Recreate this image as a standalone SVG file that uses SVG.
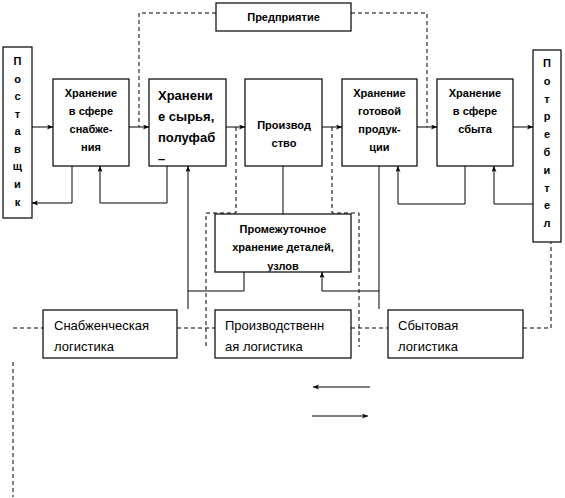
<svg xmlns="http://www.w3.org/2000/svg" width="565" height="498" viewBox="0 0 565 498">
<style>
.box{fill:#fff;stroke:#000;stroke-width:1.2}
.t{font-family:"Liberation Sans",Arial,sans-serif;font-size:11px;font-weight:bold;fill:#000;text-anchor:middle}
.tl{font-family:"Liberation Sans",Arial,sans-serif;font-size:13px;font-weight:bold;fill:#000}
.tb{font-family:"Liberation Sans",Arial,sans-serif;font-size:13px;fill:#000}
.c{fill:none;stroke:#000;stroke-width:1}
.d{fill:none;stroke:#000;stroke-width:1;stroke-dasharray:4,3}
</style>
<defs>
<marker id="ah" markerUnits="userSpaceOnUse" markerWidth="7" markerHeight="6" refX="6" refY="2.5" orient="auto">
<path d="M0,0 L6,2.5 L0,5 L1.5,2.5 z" fill="#000"/>
</marker>
<clipPath id="clipP"><rect x="215" y="214" width="136" height="57.5"/></clipPath>
</defs>

<g id="connectors">
<path class="d" d="M216,13 H139 V127"/>
<path class="d" d="M351,13 H427 V127"/>
<path class="d" d="M236,127 V213 H206 V348"/>
<path class="d" d="M332,127 V213 H359 V347"/>
<path class="d" d="M13,328 H43"/>
<path class="d" d="M177,328 H215"/>
<path class="d" d="M351,328 H388"/>
<path class="d" d="M523,328 H551 V222"/>
<path class="d" d="M13,362 V497"/>
<path class="c" d="M32,127 H53" marker-end="url(#ah)"/>
<path class="c" d="M129,127 H149" marker-end="url(#ah)"/>
<path class="c" d="M226,127 H245" marker-end="url(#ah)"/>
<path class="c" d="M322,127 H342" marker-end="url(#ah)"/>
<path class="c" d="M417,127 H437" marker-end="url(#ah)"/>
<path class="c" d="M513,127 H533" marker-end="url(#ah)"/>
<path class="c" d="M72,166 V203 H32" marker-end="url(#ah)"/>
<path class="c" d="M167,166 V203 H100 V166" marker-end="url(#ah)"/>
<path class="c" d="M188,309 V166" marker-end="url(#ah)"/>
<path class="c" d="M244,272 V291 H188"/>
<path class="c" d="M283,166 V214"/>
<path class="c" d="M379,166 V309"/>
<path class="c" d="M379,291 H322 V272" marker-end="url(#ah)"/>
<path class="c" d="M465,166 V204 H398 V166" marker-end="url(#ah)"/>
<path class="c" d="M533,204 H494 V166" marker-end="url(#ah)"/>
<path class="c" d="M370,387 H313" marker-end="url(#ah)"/>
<path class="c" d="M312,416 H368" marker-end="url(#ah)"/>
</g>

<g id="enterprise">
<rect class="box" x="216" y="3" width="135" height="28"/>
<text class="t" x="283.5" y="21">Предприятие</text>
</g>

<g id="supplier">
<rect class="box" x="3" y="47" width="29" height="171"/>
<text class="t" x="17.5" y="65">П</text>
<text class="t" x="17.5" y="83">о</text>
<text class="t" x="17.5" y="100">с</text>
<text class="t" x="17.5" y="118">т</text>
<text class="t" x="17.5" y="135">а</text>
<text class="t" x="17.5" y="153">в</text>
<text class="t" x="17.5" y="170">щ</text>
<text class="t" x="17.5" y="188">и</text>
<text class="t" x="17.5" y="206">к</text>
</g>

<g id="store-supply">
<rect class="box" x="53" y="79" width="76" height="87"/>
<text class="t" x="91" y="97">Хранение</text>
<text class="t" x="91" y="115">в сфере</text>
<text class="t" x="91" y="133">снабже-</text>
<text class="t" x="91" y="151">ния</text>
</g>

<g id="store-raw">
<rect class="box" x="149" y="79" width="77" height="87"/>
<text class="tl" x="158" y="100">Хранени</text>
<text class="tl" x="158" y="121">е сырья,</text>
<text class="tl" x="158" y="142">полуфаб</text>
<text class="tl" x="158" y="163">–</text>
</g>

<g id="production">
<rect class="box" x="245" y="79" width="77" height="87"/>
<text class="t" x="284" y="129">Производ</text>
<text class="t" x="284" y="147">ство</text>
</g>

<g id="store-finished">
<rect class="box" x="342" y="79" width="75" height="87"/>
<text class="t" x="379.5" y="97">Хранение</text>
<text class="t" x="379.5" y="115">готовой</text>
<text class="t" x="379.5" y="133">продук-</text>
<text class="t" x="379.5" y="151">ции</text>
</g>

<g id="store-sales">
<rect class="box" x="437" y="79" width="76" height="87"/>
<text class="t" x="475" y="97">Хранение</text>
<text class="t" x="475" y="115">в сфере</text>
<text class="t" x="475" y="133">сбыта</text>
</g>

<g id="consumer">
<rect class="box" x="533" y="50" width="28" height="192"/>
<text class="t" x="547" y="67">П</text>
<text class="t" x="547" y="85">о</text>
<text class="t" x="547" y="103">т</text>
<text class="t" x="547" y="120">р</text>
<text class="t" x="547" y="138">е</text>
<text class="t" x="547" y="156">б</text>
<text class="t" x="547" y="174">и</text>
<text class="t" x="547" y="192">т</text>
<text class="t" x="547" y="209">е</text>
<text class="t" x="547" y="227">л</text>
</g>

<g id="intermediate">
<rect class="box" x="215" y="214" width="136" height="58"/>
<text class="t" x="283" y="233">Промежуточное</text>
<text class="t" x="283" y="251">хранение деталей,</text>
<text class="t" x="283" y="270" clip-path="url(#clipP)">узлов</text>
</g>

<g id="log-supply">
<rect class="box" x="43" y="310" width="134" height="48"/>
<text class="tb" x="54" y="330">Снабженческая</text>
<text class="tb" x="54" y="351">логистика</text>
</g>

<g id="log-production">
<rect class="box" x="215" y="310" width="136" height="48"/>
<text class="tb" x="225" y="330">Производственн</text>
<text class="tb" x="225" y="351">ая логистика</text>
</g>

<g id="log-sales">
<rect class="box" x="388" y="310" width="135" height="48"/>
<text class="tb" x="398" y="330">Сбытовая</text>
<text class="tb" x="398" y="351">логистика</text>
</g>
</svg>
